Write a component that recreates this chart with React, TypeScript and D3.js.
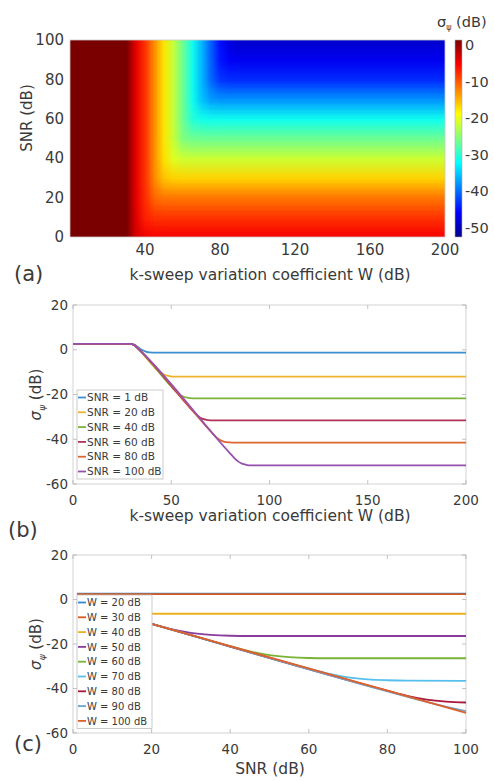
import * as d3 from "d3";
import { useMemo } from "react";

const FONT = "DejaVu Sans";
const TXT = "#3a3a3a";

// ---- panel (a) heatmap: sigma (dB) on a W x SNR grid ----
const wGrid = [0, 5, 10, 15, 20, 25, 30, 35, 40, 45, 50, 55, 60, 65, 70, 75, 80, 85, 90, 95, 100];
const snrGrid = [0, 10, 20, 30, 40, 50, 60, 70, 80, 90, 100];
// one row per SNR (bottom to top), one value per W column
const heatRows = [
  [2.5, 2.5, 2.5, 2.5, 2.5, 2.5, 2.0, -3.2, -4.6, -5, -5, -5, -5, -5, -5, -5, -5, -5, -5, -5, -5],
  [2.5, 2.5, 2.5, 2.5, 2.5, 2.5, 2.0, -3.7, -7.0, -7.9, -8, -8, -8, -8, -8, -8, -8, -8, -8, -8, -8],
  [2.5, 2.5, 2.5, 2.5, 2.5, 2.5, 2.0, -4, -7.7, -10.8, -11.5, -11.5, -11.5, -11.5, -11.5, -11.5, -11.5, -11.5, -11.5, -11.5, -11.5],
  [2.5, 2.5, 2.5, 2.5, 2.5, 2.5, 2.0, -4, -8, -12.7, -15.7, -16.4, -16.5, -16.5, -16.5, -16.5, -16.5, -16.5, -16.5, -16.5, -16.5],
  [2.5, 2.5, 2.5, 2.5, 2.5, 2.5, 2.0, -4, -8, -13, -17.2, -20.6, -21.4, -21.5, -21.5, -21.5, -21.5, -21.5, -21.5, -21.5, -21.5],
  [2.5, 2.5, 2.5, 2.5, 2.5, 2.5, 2.0, -4, -8, -13, -17.5, -21.8, -25.5, -26.3, -26.5, -26.5, -26.5, -26.5, -26.5, -26.5, -26.5],
  [2.5, 2.5, 2.5, 2.5, 2.5, 2.5, 2.0, -4, -8, -13, -17.5, -22, -26.4, -30.3, -31.3, -31.5, -31.5, -31.5, -31.5, -31.5, -31.5],
  [2.5, 2.5, 2.5, 2.5, 2.5, 2.5, 2.0, -4, -8, -13, -17.5, -22, -26.5, -31.3, -35.4, -37.5, -38, -38, -38, -38, -38],
  [2.5, 2.5, 2.5, 2.5, 2.5, 2.5, 2.0, -4, -8, -13, -17.5, -22, -26.5, -31.3, -36, -40.3, -42.9, -43.5, -43.5, -43.5, -43.5],
  [2.5, 2.5, 2.5, 2.5, 2.5, 2.5, 2.0, -4, -8, -13, -17.5, -22, -26.5, -31.3, -36, -40.7, -44.7, -46.1, -46.5, -46.5, -46.5],
  [2.5, 2.5, 2.5, 2.5, 2.5, 2.5, 2.0, -4, -8, -13, -17.5, -22, -26.5, -31.3, -36, -40.8, -45.1, -47.8, -48.5, -48.5, -48.5],
];
const heatXTicks = [40, 80, 120, 160, 200];
const heatYTicks = [0, 20, 40, 60, 80, 100];
const cbarTicks = [0, -10, -20, -30, -40, -50];
const cMin = -52.5;
const cMax = 1.4;

// ---- panel (b): sigma vs W for several SNR ----
const snr1 = [[0, 2.6], [29, 2.6], [31, 2.3], [33, 1.2], [35, 0.0], [37, -0.8], [39, -1.2], [42, -1.3], [200, -1.3]];
const snr20 = [[0, 2.6], [29, 2.6], [31, 2.2], [33, 0.6], [40, -6.4], [42, -8.3], [44, -9.9], [46, -11.0], [48, -11.6], [51, -12], [200, -12]];
const snr40 = [[0, 2.6], [29, 2.6], [31, 2.2], [33, 0.6], [50, -16.4], [52, -18.3], [54, -19.9], [56, -20.9], [58, -21.4], [61, -21.7], [200, -21.7]];
const snr60 = [[0, 2.6], [29, 2.6], [31, 2.2], [33, 0.6], [60, -26.4], [62, -28.3], [64, -29.9], [66, -30.9], [68, -31.3], [71, -31.6], [200, -31.6]];
const snr80 = [[0, 2.6], [29, 2.6], [31, 2.2], [33, 0.6], [70, -36.4], [72, -38.3], [74, -39.9], [76, -40.8], [78, -41.3], [81, -41.5], [200, -41.5]];
const snr100 = [[0, 2.6], [29, 2.6], [31, 2.2], [33, 0.6], [80, -46.4], [82, -48.3], [84, -49.9], [86, -50.9], [88, -51.4], [91, -51.7], [200, -51.7]];
const bLabels = ["SNR = 1 dB", "SNR = 20 dB", "SNR = 40 dB", "SNR = 60 dB", "SNR = 80 dB", "SNR = 100 dB"];
const bColors = ["#3b8fd0", "#efb22c", "#7db23c", "#b2325a", "#dc6530", "#9550ad"];
const bXTicks = [0, 50, 100, 150, 200];

// ---- panel (c): sigma vs SNR for several W ----
const w20 = [[1, 2.6], [100, 2.6]];
const w30 = [[1, 2.4], [100, 2.4]];
const w40 = [[1, -1.3], [5, -3.4], [10, -5.4], [15, -6.2], [20, -6.4], [100, -6.4]];
const w50 = [[1, -1.3], [10, -6], [20, -11], [25, -13.3], [30, -15], [35, -15.9], [40, -16.3], [45, -16.4], [100, -16.4]];
const w60 = [[1, -1.3], [10, -6], [20, -11], [40, -21], [45, -23.3], [50, -25], [55, -25.9], [60, -26.3], [65, -26.4], [100, -26.4]];
const w70 = [[1, -1.3], [10, -6], [20, -11], [60, -31], [65, -33.3], [70, -35], [75, -35.9], [80, -36.3], [85, -36.5], [100, -36.6]];
const w80 = [[1, -1.3], [10, -6], [20, -11], [80, -41], [85, -43.3], [90, -45], [95, -45.9], [100, -46.3]];
const w90 = [[1, -1.3], [10, -6], [20, -11], [90, -46], [95, -48.3], [100, -50.2]];
const w100 = [[1, -1.3], [10, -6], [20, -11], [100, -51]];
const cLabels = ["W = 20 dB", "W = 30 dB", "W = 40 dB", "W = 50 dB", "W = 60 dB", "W = 70 dB", "W = 80 dB", "W = 90 dB", "W = 100 dB"];
const cColors = ["#2f8ad0", "#d9581f", "#edb120", "#8a3d9c", "#7ab236", "#55c0ee", "#a8183a", "#68a6cc", "#e0602a"];
const cXTicks = [0, 20, 40, 60, 80, 100];

const sigmaTicks = [20, 0, -20, -40, -60];

const jetStops = [0, 0.125, 0.375, 0.625, 0.875, 1];
const jetColors = ["#00008a", "#0000ff", "#00ffff", "#ffff00", "#ff0000", "#7a0000"];
const color = d3
  .scaleLinear<string>()
  .domain(jetStops.map((t) => cMin + t * (cMax - cMin)))
  .range(jetColors)
  .clamp(true);

const makeImage = (rows: number[][]) => {
  const c = document.createElement("canvas");
  c.width = rows[0].length;
  c.height = rows.length;
  const ctx = c.getContext("2d")!;
  rows.forEach((row, j) =>
    row.forEach((v, i) => {
      ctx.fillStyle = color(v);
      ctx.fillRect(i, rows.length - 1 - j, 1, 1);
    })
  );
  return c.toDataURL();
};

const Heatmap = () => {
  const x = d3.scaleLinear().domain([0, 200]).range([70, 445]);
  const y = d3.scaleLinear().domain([0, 100]).range([237, 40]);
  const cy = d3.scaleLinear().domain([cMin, cMax]).range([237, 40]);
  const dw = wGrid[1] - wGrid[0];
  const ds = snrGrid[1] - snrGrid[0];
  const [img, tail] = useMemo(
    () => [makeImage(heatRows), makeImage(heatRows.map((r) => [r[r.length - 1]]))],
    []
  );
  const wLast = wGrid[wGrid.length - 1];
  const imgTop = y(snrGrid[snrGrid.length - 1] + ds / 2);
  const imgH = y(snrGrid[0] - ds / 2) - imgTop;
  return (
    <g>
      <defs>
        <clipPath id="heatClip">
          <rect x={x(0)} y={y(100)} width={x(200) - x(0)} height={y(0) - y(100)} />
        </clipPath>
        <linearGradient id="jet" x1="0" y1="1" x2="0" y2="0">
          {jetStops.map((t, i) => (
            <stop key={i} offset={t} stopColor={jetColors[i]} />
          ))}
        </linearGradient>
      </defs>
      <g clipPath="url(#heatClip)">
        <image
          href={img}
          x={x(wGrid[0] - dw / 2)}
          y={imgTop}
          width={x(wLast + dw / 2) - x(wGrid[0] - dw / 2)}
          height={imgH}
          preserveAspectRatio="none"
          style={{ imageRendering: "auto" }}
        />
        <image href={tail} x={x(wLast)} y={imgTop} width={x(200) - x(wLast) + 2} height={imgH} preserveAspectRatio="none" />
      </g>
      <rect x={x(0)} y={y(100)} width={x(200) - x(0)} height={y(0) - y(100)} fill="none" stroke="#c8c8c8" strokeWidth={0.8} />
      {heatXTicks.map((t) => (
        <text key={t} x={x(t)} y={255} textAnchor="middle" fontSize={15} fill={TXT}>
          {t}
        </text>
      ))}
      {heatYTicks.map((t) => (
        <text key={t} x={64} y={y(t)} dy="0.35em" textAnchor="end" fontSize={15} fill={TXT}>
          {t}
        </text>
      ))}
      <text transform="translate(32,118) rotate(-90)" textAnchor="middle" fontSize={15} fill={TXT}>
        SNR (dB)
      </text>
      <text x={270} y={280} textAnchor="middle" fontSize={15.5} fill={TXT}>
        k-sweep variation coefficient W (dB)
      </text>
      <text x={14} y={281} fontSize={21} fill={TXT}>
        (a)
      </text>
      <rect x={455} y={cy(cMax)} width={7} height={cy(cMin) - cy(cMax)} fill="url(#jet)" stroke="#b0b0b0" strokeWidth={0.6} />
      {cbarTicks.map((t) => (
        <text key={t} x={465} y={cy(t)} dy="0.35em" fontSize={14.5} fill={TXT}>
          {t}
        </text>
      ))}
      <text x={437} y={27} fontSize={14.5} fill={TXT}>
        σ<tspan fontSize={8} dy={3}>ψ</tspan>
        <tspan dy={-3}> (dB)</tspan>
      </text>
    </g>
  );
};

type Pt = number[];

const LinePanel = ({
  top,
  bottom,
  xDomain,
  xTicks,
  series,
  colors,
  labels,
  legendTop,
  legendRight,
  legendFont,
}: {
  top: number;
  bottom: number;
  xDomain: [number, number];
  xTicks: number[];
  series: Pt[][];
  colors: string[];
  labels: string[];
  legendTop: number;
  legendRight: number;
  legendFont: number;
}) => {
  const left = 73;
  const right = 466;
  const x = d3.scaleLinear().domain(xDomain).range([left, right]);
  const y = d3.scaleLinear().domain([-60, 20]).range([bottom, top]);
  const line = d3
    .line<Pt>()
    .x((d) => x(d[0]))
    .y((d) => y(d[1]))
    .curve(d3.curveMonotoneX);
  const step = 14.8;
  const legendBottom = legendTop + 7.5 + step * (labels.length - 1) + 7.5;
  return (
    <g>
      <rect x={left} y={top} width={right - left} height={bottom - top} fill="#fff" stroke="#c8c8c8" strokeWidth={0.8} />
      {xTicks.map((t) => (
        <g key={t}>
          <line x1={x(t)} x2={x(t)} y1={bottom} y2={bottom - 4} stroke="#aaa" strokeWidth={0.7} />
          <line x1={x(t)} x2={x(t)} y1={top} y2={top + 4} stroke="#aaa" strokeWidth={0.7} />
          <text x={x(t)} y={bottom + 21} textAnchor="middle" fontSize={13.5} fill={TXT}>
            {t}
          </text>
        </g>
      ))}
      {sigmaTicks.map((t) => (
        <g key={t}>
          <line x1={left} x2={left + 4} y1={y(t)} y2={y(t)} stroke="#aaa" strokeWidth={0.7} />
          <line x1={right} x2={right - 4} y1={y(t)} y2={y(t)} stroke="#aaa" strokeWidth={0.7} />
          <text x={68} y={y(t)} dy="0.35em" textAnchor="end" fontSize={13.5} fill={TXT}>
            {t}
          </text>
        </g>
      ))}
      {series.map((s, i) => (
        <path key={i} d={line(s) ?? ""} fill="none" stroke={colors[i]} strokeWidth={1.8} />
      ))}
      <rect x={77} y={legendTop} width={legendRight - 77} height={legendBottom - legendTop} fill="#fff" stroke="#bdbdbd" strokeWidth={0.8} />
      {labels.map((l, i) => {
        const yy = legendTop + 7.5 + i * step;
        return (
          <g key={l}>
            <line x1={78} x2={86} y1={yy} y2={yy} stroke={colors[i]} strokeWidth={1.8} />
            <text x={87} y={yy} dy="0.36em" fontSize={legendFont} fill={TXT}>
              {l}
            </text>
          </g>
        );
      })}
      <text transform={`translate(41,${(top + bottom) / 2}) rotate(-90)`} textAnchor="middle" fontSize={15} fill={TXT}>
        <tspan fontStyle="italic">σ</tspan>
        <tspan fontStyle="italic" fontSize={9} dy={4}>
          ψ
        </tspan>
        <tspan dy={-4}> (dB)</tspan>
      </text>
    </g>
  );
};

export default function App() {
  return (
    <svg width={494} height={781} style={{ position: "absolute", left: 0, top: 0, background: "#fff" }} fontFamily={FONT}>
      <Heatmap />
      <LinePanel
        top={305}
        bottom={484}
        xDomain={[0, 200]}
        xTicks={bXTicks}
        series={[snr1, snr20, snr40, snr60, snr80, snr100]}
        colors={bColors}
        labels={bLabels}
        legendTop={390}
        legendRight={163}
        legendFont={10.5}
      />
      <text x={270} y={521} textAnchor="middle" fontSize={15.5} fill={TXT}>
        k-sweep variation coefficient W (dB)
      </text>
      <text x={8} y={537} fontSize={21} fill={TXT}>
        (b)
      </text>
      <LinePanel
        top={555}
        bottom={733}
        xDomain={[0, 100]}
        xTicks={cXTicks}
        series={[w20, w30, w40, w50, w60, w70, w80, w90, w100]}
        colors={cColors}
        labels={cLabels}
        legendTop={595}
        legendRight={152}
        legendFont={10}
      />
      <text x={270} y={774} textAnchor="middle" fontSize={15.5} fill={TXT}>
        SNR (dB)
      </text>
      <text x={14} y={751} fontSize={21} fill={TXT}>
        (c)
      </text>
    </svg>
  );
}
